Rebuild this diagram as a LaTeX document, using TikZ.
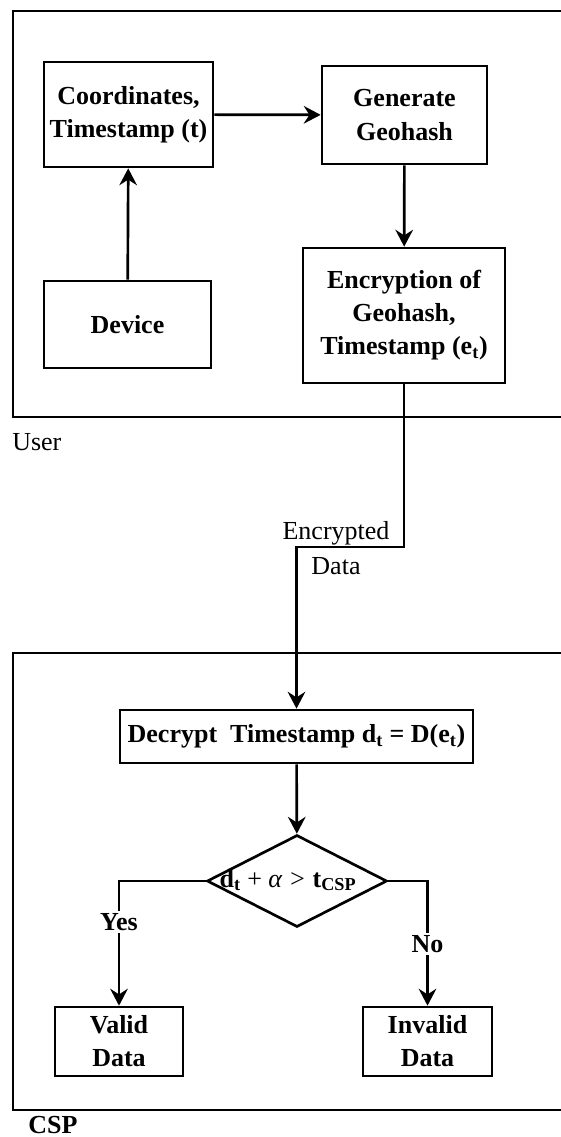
\documentclass[tikz,border=0pt]{standalone}
\usepackage{fontspec}
\setmainfont{Liberation Serif}
\usepackage{tikz}
\usetikzlibrary{arrows.meta,positioning,shapes.geometric}

\begin{document}
\begin{tikzpicture}[
    >={Stealth[length=12pt,width=12.5pt,inset=4pt]},
    every node/.style={font=\fontsize{18.5}{23.5}\selectfont\bfseries},
    blk/.style={draw, line width=1.9pt, align=center, inner sep=0pt},
    decide/.style={draw, diamond, line width=1.9pt, inner sep=0pt, minimum width=4.5cm, minimum height=2.3cm},
    zone/.style={draw, line width=1.9pt},
    flow/.style={->, line width=1.9pt},
    tag/.style={fill=white, inner sep=2pt, align=center}
]
\useasboundingbox (0,0) rectangle (14.025,-28.425);
\clip (0,0) rectangle (14.025,-28.425);

% user side
\draw[zone] (0.325,-0.275) rectangle (14.5,-10.425);
\node[anchor=west, inner sep=0pt, font=\fontsize{18.5}{23.5}\selectfont] (user) at (0.3,-11.05) {User};

\node[blk, minimum width=4.225cm, minimum height=2.625cm] (coord) at (3.2125,-2.8625) {Coordinates,\\Timestamp (t)};
\node[blk, minimum width=4.125cm, minimum height=2.45cm] (geo) at (10.1125,-2.875) {Generate\\Geohash};
\node[blk, minimum width=4.175cm, minimum height=2.175cm] (dev) at (3.1875,-8.1125) {Device};
\node[blk, minimum width=5.05cm, minimum height=3.375cm] (enc) at (10.1,-7.8875) {Encryption of\\Geohash,\\Timestamp (e\textsubscript{t})};

% csp side
\draw[zone] (0.325,-16.325) rectangle (14.5,-27.75);
\node[anchor=west, inner sep=0pt] (csp) at (0.7,-28.125) {CSP};

\node[blk, minimum width=8.825cm, minimum height=1.325cm] (dec) at (7.4125,-18.4125) {Decrypt\ \ Timestamp d\textsubscript{t} = D(e\textsubscript{t})};
\node[decide] (check) at (7.425,-22.025) {};
\node (checktxt) at (7.2,-22.0) {d\textsubscript{t} {\mdseries + \itshape α >} t\textsubscript{CSP}};
\node[blk, minimum width=3.2cm, minimum height=1.725cm] (valid) at (2.975,-26.0375) {Valid\\Data};
\node[blk, minimum width=3.225cm, minimum height=1.725cm] (invalid) at (10.6875,-26.0375) {Invalid\\Data};

\coordinate (turn) at (7.4125,-13.675);

\draw[flow] (dev) -- (coord);
\draw[flow] (coord) -- (geo);
\draw[flow] (geo) -- (enc);
\draw[flow] (enc.south) |- (turn) -- (dec.north);
\node[align=center, inner sep=0pt, font=\fontsize{18.5}{24.5}\selectfont] (enclbl) at (8.4,-13.7) {Encrypted\\Data};
\draw[flow] (dec) -- (check);
\draw[flow] (check.west) -| (valid.north);
\draw[flow] (check.east) -| (invalid.north);
\node[tag] (yes) at (2.975,-23.05) {Yes};
\node[tag] (no) at (10.6875,-23.6) {No};
\end{tikzpicture}
\end{document}
